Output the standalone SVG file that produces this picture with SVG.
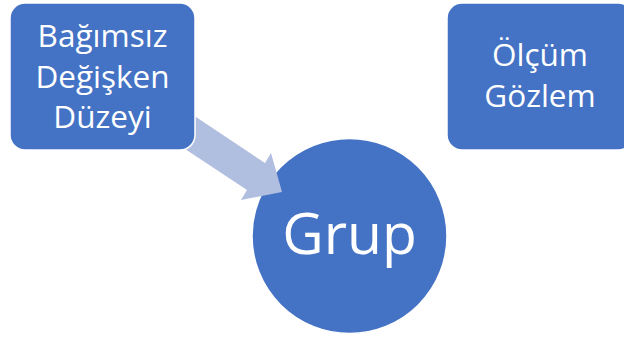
<svg xmlns="http://www.w3.org/2000/svg" width="624" height="340" viewBox="0 0 624 340">
<style>
.node{fill:#4472C4;stroke:#FFFFFF;stroke-width:1.5}
.t{fill:#FFFFFF;font-family:"Open Sans","Noto Sans",sans-serif;text-anchor:middle}
.arrow{fill:#B0BEE0}
</style>
<rect width="624" height="340" fill="#FFFFFF"/>
<g id="grup">
<circle class="node" cx="349.5" cy="236" r="97.5"/>
<text class="t" x="349.5" y="254" font-size="57">Grup</text>
</g>
<g id="connectors">
<polygon class="arrow" points="190,113 265,163 271,153 282,192 241,200 247,190 179,145"/>
</g>
<g id="bagimsiz">
<rect class="node" x="10" y="3" width="185" height="147" rx="15" ry="15"/>
<text class="t" font-size="31.5"><tspan x="102.5" y="47">Bağımsız</tspan><tspan x="102.5" y="87.5">Değişken</tspan><tspan x="102.5" y="128">Düzeyi</tspan></text>
</g>
<g id="olcum">
<rect class="node" x="447" y="3" width="186" height="147" rx="15" ry="15"/>
<text class="t" font-size="31.5"><tspan x="540" y="66">Ölçüm</tspan><tspan x="540" y="107">Gözlem</tspan></text>
</g>
</svg>
